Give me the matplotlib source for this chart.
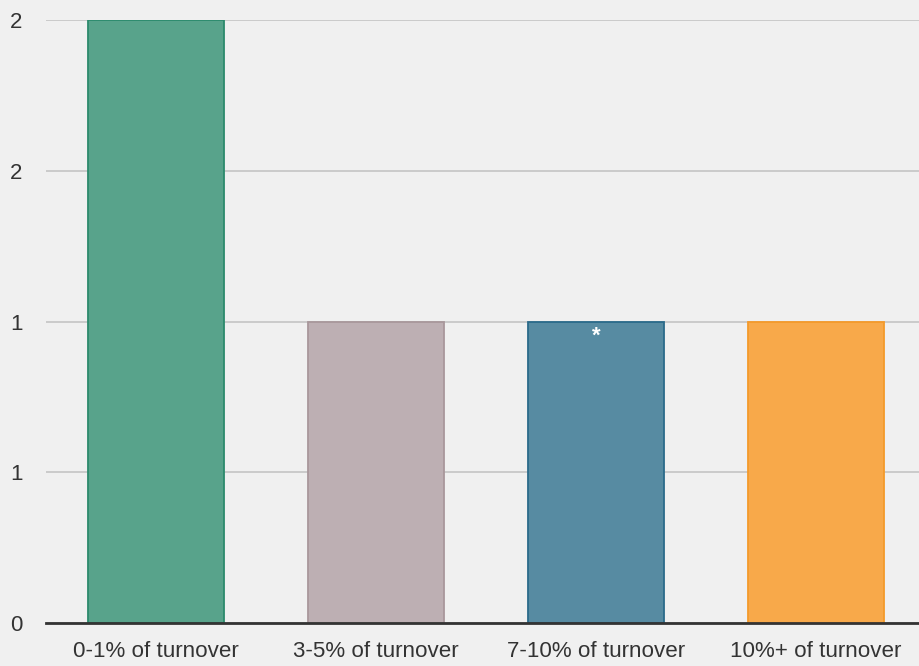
import matplotlib.pyplot as plt
from matplotlib.ticker import FixedLocator, FixedFormatter

plt.rcParams['font.family'] = ['Liberation Sans', 'DejaVu Sans']

# --- data ---
categories = ['0-1% of turnover', '3-5% of turnover', '7-10% of turnover', '10%+ of turnover']
values = [2, 1, 1, 1]
y_ticks = [0, 0.5, 1, 1.5, 2]
y_tick_labels = ['0', '1', '1', '2', '2']
marked = ['', '', '*', '']

face_colors = ['#58a38b', '#bdafb3', '#578ba2', '#f8a94a']
edge_colors = ['#2b8a6c', '#a8979b', '#2a6a8a', '#f49a2a']

BG = '#f0f0f0'
TEXT = '#333333'

fig = plt.figure(figsize=(9.2, 6.66), dpi=100, facecolor=BG)
ax = fig.add_axes([46 / 920, 1 - 623 / 666, 874 / 920, 603 / 666])
ax.set_facecolor(BG)

x = list(range(len(categories)))
ax.bar(x, values, width=0.62, color=face_colors, edgecolor=edge_colors,
       linewidth=1.3, zorder=3)

# small marker text just under the top of the bar
for xi, v, m in zip(x, values, marked):
    if m:
        ax.annotate(m, (xi, v), xytext=(0, -3), textcoords='offset points',
                    ha='center', va='top', color='white', fontsize=16,
                    fontweight='bold', zorder=4)

ax.set_xlim(-0.5, -0.5 + 874 / 220)
ax.set_ylim(0, 2)

ax.yaxis.set_major_locator(FixedLocator(y_ticks))
ax.yaxis.set_major_formatter(FixedFormatter(y_tick_labels))
ax.set_xticks(x)
ax.set_xticklabels(categories)

ax.grid(axis='y', color='#c8c8c8', linewidth=1.3, zorder=0)
ax.tick_params(axis='y', length=0, pad=17, labelsize=16, labelcolor=TEXT)
ax.tick_params(axis='x', length=0, pad=13, labelsize=16.1, labelcolor=TEXT)

for side in ['top', 'right', 'left']:
    ax.spines[side].set_visible(False)
ax.spines['bottom'].set_color(TEXT)
ax.spines['bottom'].set_linewidth(2)
ax.spines['bottom'].set_zorder(5)

fig.savefig('out.png', dpi=100, facecolor=BG)
